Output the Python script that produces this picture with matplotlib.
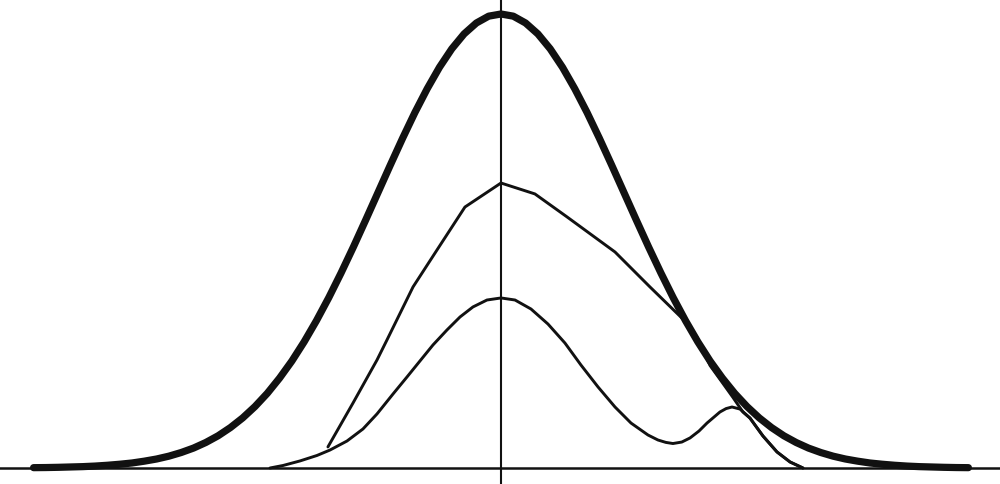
import matplotlib
matplotlib.use("Agg")
import matplotlib.pyplot as plt

# x in units of sigma, y as density
# thick bell curve, right half read at 0.1 steps; the curve is symmetric
half_x = [0.0, 0.1, 0.2, 0.3, 0.4, 0.5, 0.6, 0.7, 0.8, 0.9,
          1.0, 1.1, 1.2, 1.3, 1.4, 1.5, 1.6, 1.7, 1.8, 1.9,
          2.0, 2.1, 2.2, 2.3, 2.4, 2.5, 2.6, 2.7, 2.8, 2.9,
          3.0, 3.1, 3.2, 3.3, 3.4, 3.5, 3.6, 3.7, 3.8]
half_y = [0.3989, 0.3970, 0.3910, 0.3814, 0.3683, 0.3521, 0.3332, 0.3123, 0.2897, 0.2661,
          0.2420, 0.2179, 0.1942, 0.1714, 0.1497, 0.1295, 0.1109, 0.0940, 0.0790, 0.0656,
          0.0540, 0.0440, 0.0355, 0.0283, 0.0224, 0.0175, 0.0136, 0.0104, 0.0079, 0.0060,
          0.0044, 0.0033, 0.0024, 0.0017, 0.0012, 0.0009, 0.0006, 0.0004, 0.0003]

# middle (angular) curve
mid_x = [-1.407, -1.203, -1.008, -0.927, -0.715, -0.520, -0.293, 0.0, 0.276, 0.537,
         0.927, 1.211, 1.512, 1.593, 1.70, 1.80, 1.886, 1.967, 2.024, 2.130,
         2.244, 2.350, 2.455]
mid_y = [0.0185, 0.0571, 0.0949, 0.1125, 0.1591, 0.1916, 0.2293, 0.2504, 0.2408, 0.2206,
         0.1898, 0.1591, 0.1274, 0.1150, 0.0900, 0.0750, 0.0620, 0.0492, 0.0439, 0.0281,
         0.0141, 0.0053, 0.0]

# lower curve with a second bump on the right
low_x = [-1.878, -1.772, -1.634, -1.496, -1.390, -1.252, -1.122, -1.008, -0.878, -0.764,
         -0.659, -0.553, -0.439, -0.333, -0.228, -0.114, 0.0, 0.114, 0.244, 0.382,
         0.520, 0.650, 0.789, 0.927, 1.057, 1.195, 1.276, 1.340, 1.398, 1.470,
         1.537, 1.610, 1.675, 1.780, 1.830, 1.878, 1.943, 2.024, 2.130, 2.244,
         2.350, 2.455]
low_y = [0.0, 0.0022, 0.0062, 0.0110, 0.0158, 0.0237, 0.0343, 0.0475, 0.0650, 0.0800,
         0.0940, 0.1081, 0.1213, 0.1327, 0.1415, 0.1476, 0.1494, 0.1476, 0.1397, 0.1265,
         0.1098, 0.0905, 0.0712, 0.0536, 0.0395, 0.0290, 0.0246, 0.0225, 0.0215, 0.0228,
         0.0264, 0.0325, 0.0395, 0.0492, 0.0522, 0.0536, 0.0518, 0.0439, 0.0281, 0.0141,
         0.0053, 0.0]

norm_x = [-v for v in half_x[::-1]] + half_x[1:]
norm_y = half_y[::-1] + half_y[1:]

ink = "#111111"

fig = plt.figure(figsize=(10, 4.84), dpi=100)
ax = fig.add_axes([0, 0, 1, 1])

ax.axhline(0, color=ink, lw=1.8, zorder=1)
ax.axvline(0, color=ink, lw=1.5, zorder=1)

ax.plot(norm_x, norm_y, color=ink, lw=5.2, solid_joinstyle="round",
        solid_capstyle="round", zorder=3)
ax.plot(mid_x, mid_y, color=ink, lw=2.1, solid_joinstyle="round",
        solid_capstyle="round", zorder=2)
ax.plot(low_x, low_y, color=ink, lw=2.1, solid_joinstyle="round",
        solid_capstyle="round", zorder=2)

ax.set_xlim(-4.073, 4.057)
ax.set_ylim(-0.01406, 0.4112)
ax.axis("off")

fig.savefig("out.png", dpi=100, facecolor="white")
